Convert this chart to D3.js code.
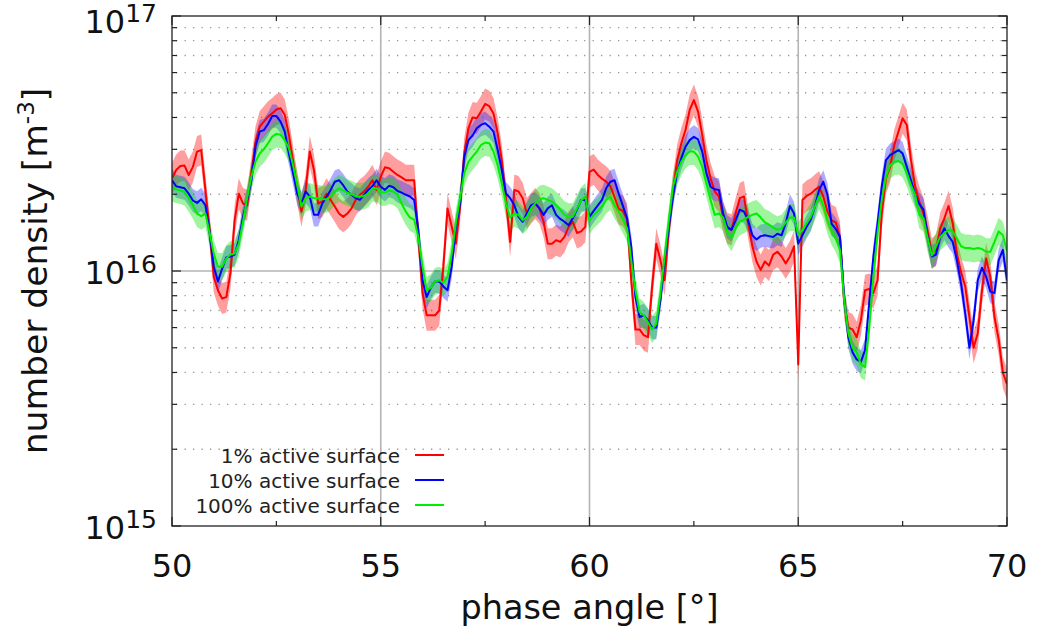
<!DOCTYPE html>
<html lang="en">
<head>
<meta charset="UTF-8">
<title>number density vs phase angle</title>
<script src="https://cdn.jsdelivr.net/npm/d3@7"></script>
<style>
body { margin: 0; background: #fff; }
svg { display: block; font-family: 'DejaVu Sans', sans-serif; }
</style>
</head>
<body>
<svg id="chart" width="1040" height="640"></svg>
<script>
// phase angle sampling [deg]
const phaseStart = 50, phaseStep = 0.1;

// number density, units of 1e16 m^-3, one value per 0.1 deg from 50 to 70
const active1 = [
  2.31, 2.49, 2.58, 2.59, 2.38, 2.56, 2.94, 2.98, 2.08, 1.45,
  0.95, 0.84, 0.78, 0.79, 0.98, 1.58, 2.01, 1.84, 1.81, 2.42,
  3.21, 3.68, 3.85, 4.03, 4.15, 4.30, 4.35, 4.10, 3.42, 2.69,
  2.11, 1.71, 2.08, 2.94, 2.49, 1.84, 1.87, 2.01, 1.90, 1.79,
  1.68, 1.63, 1.68, 1.76, 1.90, 1.99, 2.05, 2.14, 2.27, 2.08,
  2.34, 2.55, 2.53, 2.45, 2.38, 2.33, 2.27, 2.27, 2.27, 1.36,
  0.82, 0.67, 0.67, 0.67, 0.70, 1.04, 1.76, 1.49, 1.28, 1.79,
  2.89, 3.63, 4.00, 3.97, 4.22, 4.52, 4.43, 4.15, 3.47, 2.72,
  1.90, 1.30, 2.08, 2.05, 1.93, 1.68, 1.76, 1.84, 1.76, 1.56,
  1.28, 1.28, 1.32, 1.30, 1.36, 1.49, 1.56, 1.41, 1.43, 1.49,
  2.45, 2.50, 2.38, 2.30, 2.24, 2.15, 1.95, 1.75, 1.72, 1.60,
  0.92, 0.59, 0.59, 0.56, 0.55, 0.87, 1.28, 1.10, 0.92, 1.45,
  2.08, 2.72, 3.17, 3.57, 4.28, 4.68, 4.22, 3.42, 2.72, 2.31,
  2.05, 1.96, 1.63, 1.47, 1.45, 1.68, 1.93, 1.96, 1.54, 1.25,
  1.09, 1.01, 1.09, 1.05, 1.16, 1.19, 1.14, 1.07, 1.14, 1.25,
  0.43, 1.90, 1.97, 2.01, 2.08, 2.14, 1.96, 1.71, 1.58, 1.55,
  1.36, 0.75, 0.60, 0.59, 0.55, 0.64, 0.84, 0.85, 0.82, 0.92,
  1.68, 2.31, 2.56, 3.12, 3.52, 3.97, 3.74, 2.72, 2.14, 1.87,
  1.68, 1.43, 1.17, 1.21, 1.47, 1.61, 1.80, 1.54, 1.17, 0.99,
  0.87, 0.66, 0.50, 0.57, 0.84, 1.12, 0.95, 0.66, 0.54, 0.40,
  0.36
];
const active10 = [
  2.27, 2.15, 2.13, 2.11, 2.01, 1.89, 1.85, 1.91, 1.81, 1.43,
  1.04, 0.91, 1.02, 1.13, 1.14, 1.16, 1.32, 1.63, 1.90, 2.27,
  3.07, 3.52, 3.57, 3.77, 4.05, 4.05, 3.85, 3.52, 2.89, 2.42,
  2.01, 1.84, 2.05, 1.96, 1.66, 1.66, 1.84, 1.95, 2.08, 2.24,
  2.27, 2.17, 2.05, 1.99, 1.93, 1.90, 1.99, 2.08, 2.15, 2.27,
  2.14, 2.08, 2.16, 2.13, 2.06, 2.03, 1.99, 1.96, 1.90, 1.45,
  0.92, 0.79, 0.86, 0.91, 0.91, 0.87, 0.84, 1.04, 1.49, 1.84,
  2.80, 3.26, 3.40, 3.63, 3.74, 3.80, 3.68, 3.52, 2.98, 2.49,
  2.01, 1.93, 1.81, 1.63, 1.56, 1.68, 1.81, 1.84, 1.76, 1.66,
  1.76, 1.81, 1.66, 1.60, 1.56, 1.51, 1.61, 1.74, 1.90, 1.90,
  1.63, 1.72, 1.81, 1.90, 2.11, 2.24, 2.27, 2.01, 1.80, 1.61,
  1.25, 0.79, 0.66, 0.67, 0.64, 0.60, 0.60, 0.77, 1.10, 1.49,
  1.96, 2.45, 2.77, 3.07, 3.26, 3.36, 3.28, 2.94, 2.42, 2.14,
  2.09, 2.08, 1.68, 1.49, 1.45, 1.58, 1.74, 1.71, 1.58, 1.38,
  1.33, 1.37, 1.38, 1.37, 1.36, 1.40, 1.38, 1.54, 1.80, 1.68,
  1.28, 1.38, 1.49, 1.59, 1.79, 2.08, 2.24, 1.99, 1.53, 1.46,
  1.36, 0.79, 0.55, 0.48, 0.45, 0.44, 0.49, 0.75, 1.14, 1.54,
  2.14, 2.72, 2.85, 2.91, 2.98, 2.89, 2.56, 2.27, 1.99, 1.83,
  1.74, 1.36, 1.14, 1.16, 1.36, 1.47, 1.37, 1.30, 1.10, 0.89,
  0.68, 0.50, 0.64, 0.92, 1.03, 0.95, 0.83, 0.82, 1.10, 1.21,
  0.92
];
const active100 = [
  2.11, 2.09, 2.07, 2.04, 1.93, 1.81, 1.68, 1.64, 1.68, 1.41,
  1.17, 1.04, 1.04, 1.12, 1.16, 1.17, 1.28, 1.56, 1.93, 2.34,
  2.68, 2.89, 3.00, 3.17, 3.36, 3.45, 3.42, 3.26, 3.03, 2.60,
  2.17, 1.79, 1.93, 1.96, 1.93, 1.93, 1.91, 1.91, 1.96, 2.05,
  2.11, 2.07, 2.03, 2.00, 1.96, 1.96, 1.97, 2.01, 2.11, 2.11,
  2.04, 2.03, 2.07, 2.05, 1.99, 1.84, 1.71, 1.62, 1.59, 1.36,
  1.04, 0.84, 0.86, 0.91, 0.92, 0.90, 0.95, 1.17, 1.54, 1.93,
  2.42, 2.68, 2.81, 2.94, 3.12, 3.19, 3.17, 2.94, 2.60, 2.20,
  1.84, 1.62, 1.68, 1.66, 1.58, 1.63, 1.76, 1.84, 1.91, 1.93,
  1.90, 1.87, 1.81, 1.74, 1.66, 1.63, 1.63, 1.76, 1.89, 1.96,
  1.58, 1.66, 1.72, 1.79, 1.90, 1.96, 1.81, 1.71, 1.59, 1.47,
  1.10, 0.84, 0.69, 0.67, 0.63, 0.59, 0.62, 0.82, 1.14, 1.58,
  2.14, 2.45, 2.68, 2.85, 2.94, 2.94, 2.81, 2.56, 2.20, 1.90,
  1.66, 1.68, 1.62, 1.43, 1.35, 1.47, 1.56, 1.59, 1.63, 1.66,
  1.68, 1.62, 1.55, 1.52, 1.48, 1.45, 1.47, 1.55, 1.62, 1.62,
  1.38, 1.45, 1.54, 1.63, 1.79, 1.97, 1.81, 1.58, 1.43, 1.34,
  1.21, 0.77, 0.57, 0.50, 0.48, 0.43, 0.42, 0.60, 0.95, 1.41,
  1.90, 2.34, 2.60, 2.68, 2.70, 2.63, 2.42, 2.17, 1.99, 1.66,
  1.61, 1.34, 1.15, 1.25, 1.36, 1.41, 1.45, 1.43, 1.34, 1.25,
  1.23, 1.23, 1.22, 1.23, 1.22, 1.19, 1.19, 1.30, 1.43, 1.38,
  1.20
];
// relative half-width of the shaded uncertainty band of each run
const relErr = [0.15, 0.11, 0.13];
const seriesNames = ['1% active surface', '10% active surface', '100% active surface'];
const seriesValues = [active1, active10, active100];

const lineColors = ['#ff0000', '#0000ff', '#00ee00'];
const bandColors = ['rgba(255,0,0,0.38)', 'rgba(40,40,255,0.38)', 'rgba(0,230,0,0.38)'];

const margin = {left: 172, right: 1007, top: 16, bottom: 526};
const svg = d3.select('#chart');

const x = d3.scaleLinear().domain([50, 70]).range([margin.left, margin.right]);
const y = d3.scaleLog().domain([1e15, 1e17]).range([margin.bottom, margin.top]);

svg.append('defs').append('clipPath').attr('id', 'plotclip')
  .append('rect')
    .attr('x', margin.left).attr('y', margin.top)
    .attr('width', margin.right - margin.left)
    .attr('height', margin.bottom - margin.top);

// minor grid (dotted) for 2..9 x each decade
const minorY = [];
[1e15, 1e16].forEach(dec => { for (let k = 2; k <= 9; k++) minorY.push(k * dec); });

const grid = svg.append('g').attr('class', 'grid');
grid.selectAll('line.minor').data(minorY).enter().append('line')
    .attr('class', 'minor')
    .attr('x1', margin.left + 4).attr('x2', margin.right)
    .attr('y1', d => y(d)).attr('y2', d => y(d))
    .attr('stroke', '#999').attr('stroke-width', 1.3)
    .attr('stroke-dasharray', '1.3,7.2');

grid.selectAll('line.vx').data([55, 60, 65]).enter().append('line')
    .attr('x1', d => x(d)).attr('x2', d => x(d))
    .attr('y1', margin.top).attr('y2', margin.bottom)
    .attr('stroke', '#b4b4b4').attr('stroke-width', 1.6);
grid.append('line')
    .attr('x1', margin.left).attr('x2', margin.right)
    .attr('y1', y(1e16)).attr('y2', y(1e16))
    .attr('stroke', '#b4b4b4').attr('stroke-width', 1.6);

// data
const toPoints = vals => vals.map((v, i) => ({p: phaseStart + i * phaseStep, v: v * 1e16}));

const plot = svg.append('g').attr('clip-path', 'url(#plotclip)');

seriesValues.forEach((vals, s) => {
  const e = relErr[s];
  const area = d3.area()
      .x(d => x(d.p))
      .y0(d => y(d.v / (1 + e)))
      .y1(d => y(d.v * (1 + e)));
  plot.append('path')
      .datum(toPoints(vals))
      .attr('d', area)
      .attr('fill', bandColors[s]);
});

const line = d3.line().x(d => x(d.p)).y(d => y(d.v));
seriesValues.forEach((vals, s) => {
  plot.append('path')
      .datum(toPoints(vals))
      .attr('d', line)
      .attr('fill', 'none')
      .attr('stroke', lineColors[s])
      .attr('stroke-width', 2)
      .attr('stroke-linejoin', 'round');
});

// frame + ticks
const frame = svg.append('g');
frame.append('rect')
    .attr('x', margin.left).attr('y', margin.top)
    .attr('width', margin.right - margin.left)
    .attr('height', margin.bottom - margin.top)
    .attr('fill', 'none').attr('stroke', '#222').attr('stroke-width', 1.3);

const xMajor = [50, 55, 60, 65, 70], xMinor = [52.5, 57.5, 62.5, 67.5];
const tickLen = 9, minorLen = 5;
function xTick(v, len) {
  frame.append('line').attr('x1', x(v)).attr('x2', x(v))
      .attr('y1', margin.bottom).attr('y2', margin.bottom - len)
      .attr('stroke', '#222').attr('stroke-width', 1.2);
  frame.append('line').attr('x1', x(v)).attr('x2', x(v))
      .attr('y1', margin.top).attr('y2', margin.top + len)
      .attr('stroke', '#222').attr('stroke-width', 1.2);
}
xMajor.forEach(v => xTick(v, tickLen));
xMinor.forEach(v => xTick(v, minorLen));

function yTick(v, len) {
  frame.append('line').attr('x1', margin.left).attr('x2', margin.left + len)
      .attr('y1', y(v)).attr('y2', y(v))
      .attr('stroke', '#222').attr('stroke-width', 1.2);
  frame.append('line').attr('x1', margin.right).attr('x2', margin.right - len)
      .attr('y1', y(v)).attr('y2', y(v))
      .attr('stroke', '#222').attr('stroke-width', 1.2);
}
[1e15, 1e16, 1e17].forEach(v => yTick(v, tickLen));
minorY.forEach(v => yTick(v, minorLen));

// tick labels
svg.append('g').selectAll('text').data(xMajor).enter().append('text')
    .attr('x', d => x(d)).attr('y', 577)
    .attr('text-anchor', 'middle')
    .attr('font-size', 32).attr('fill', '#111')
    .text(d => d);

// the top label sits a few px lower so its exponent stays on the canvas
const yLab = svg.append('g').selectAll('text').data([15, 16, 17]).enter().append('text')
    .attr('x', 157).attr('y', d => y(Math.pow(10, d)) + (d === 17 ? 17 : 13))
    .attr('text-anchor', 'end')
    .attr('font-size', 32).attr('fill', '#111');
yLab.append('tspan').text('10');
yLab.append('tspan').attr('dy', -11).attr('font-size', 25).text(d => d);

// axis titles
svg.append('text')
    .attr('x', x(60)).attr('y', 619)
    .attr('text-anchor', 'middle')
    .attr('font-size', 33.5).attr('fill', '#111')
    .text('phase angle [°]');

const yt = svg.append('text')
    .attr('transform', 'translate(47,' + ((margin.top + margin.bottom) / 2) + ') rotate(-90)')
    .attr('text-anchor', 'middle')
    .attr('font-size', 34.5).attr('fill', '#111');
yt.append('tspan').text('number density [m');
yt.append('tspan').attr('dy', -13).attr('font-size', 23).text('-3');
yt.append('tspan').attr('dy', 13).text(']');

// legend
const legend = svg.append('g');
seriesNames.forEach((name, i) => {
  const ly = 463 + i * 25;
  legend.append('text')
      .attr('x', 400).attr('y', ly)
      .attr('text-anchor', 'end')
      .attr('font-size', 20).attr('fill', '#222')
      .text(name);
  legend.append('line')
      .attr('x1', 415).attr('x2', 444)
      .attr('y1', ly - 8).attr('y2', ly - 8)
      .attr('stroke', lineColors[i]).attr('stroke-width', 2);
});
</script>
</body>
</html>
